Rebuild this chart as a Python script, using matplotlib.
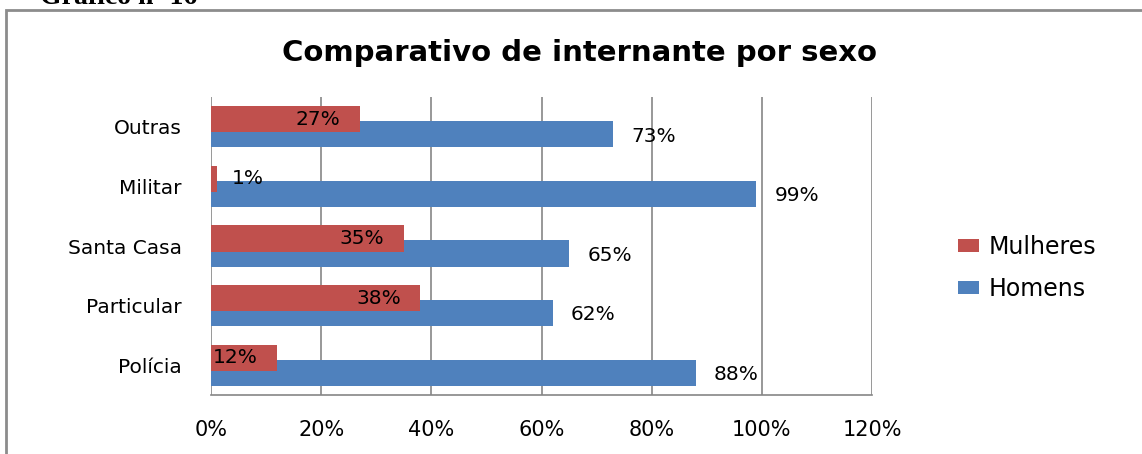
import matplotlib.pyplot as plt
from matplotlib.patches import Rectangle
import numpy as np

plt.rcParams['font.family'] = 'DejaVu Sans'

categories = ['Polícia', 'Particular', 'Santa Casa', 'Militar', 'Outras']
mulheres = [12, 38, 35, 1, 27]
homens = [88, 62, 65, 99, 73]
xticks = [0, 20, 40, 60, 80, 100, 120]

red = '#C0504D'
blue = '#4F81BD'
grid_col = '#868686'

fig = plt.figure(figsize=(11.42, 4.54), dpi=100)
ax = fig.add_axes([211 / 1142, 59 / 454, 661 / 1142, 298 / 454])

y = np.arange(len(categories))
off = 0.126
h = 0.437

ax.barh(y - off, homens, height=h, color=blue, zorder=2, label='Homens')
ax.barh(y + off, mulheres, height=h, color=red, zorder=3, label='Mulheres')

# data labels
for i, v in enumerate(mulheres):
	if v >= 10:
		ax.text(v - 3.5, i + off, f'{v}%', ha='right', va='center', fontsize=14.5, zorder=4)
	else:
		ax.text(v + 2.8, i + off, f'{v}%', ha='left', va='center', fontsize=14.5, zorder=4)
for i, v in enumerate(homens):
	ax.text(v + 3.3, i - off - 0.03, f'{v}%', ha='left', va='center', fontsize=14.5, zorder=4)

ax.set_xlim(0, 120)
ax.set_ylim(-0.5, len(categories) - 0.5)
ax.set_xticks(xticks)
ax.set_xticklabels([f'{t}%' for t in xticks], fontsize=15)
ax.set_yticks(y)
ax.set_yticklabels(categories, fontsize=14.5)
ax.tick_params(length=0, pad=18, axis='x')
ax.tick_params(length=0, pad=21, axis='y')

for t in xticks:
	ax.axvline(t, color=grid_col, lw=1.2, zorder=1)
for s in ['top', 'left', 'right']:
	ax.spines[s].set_visible(False)
ax.spines['bottom'].set_color(grid_col)
ax.spines['bottom'].set_linewidth(1.2)

fig.text(0.5 * (247 + 912) / 1142, 1 - 53 / 454, 'Comparativo de internante por sexo',
	ha='center', va='center', fontsize=21, fontweight='bold')

# caption cut off at the top of the image
fig.text(40 / 1142, 1 - 4 / 454, 'Gráfico nº 16', ha='left', va='baseline',
	fontsize=20, fontweight='bold', family='Liberation Serif')

# outer frame
fig.add_artist(Rectangle((6 / 1142, -0.2), 1.3, 1.2 - 10 / 454, transform=fig.transFigure,
	fill=False, edgecolor='#8c8c8c', lw=2))

handles, labels = ax.get_legend_handles_labels()
fig.legend(handles[::-1], labels[::-1], loc='center left', bbox_to_anchor=(958 / 1142, 1 - 268 / 454),
	frameon=False, fontsize=17, handlelength=0.9, handleheight=0.5, handletextpad=0.4,
	labelspacing=0.75, borderpad=0, borderaxespad=0)

plt.savefig('out.png', dpi=100)
